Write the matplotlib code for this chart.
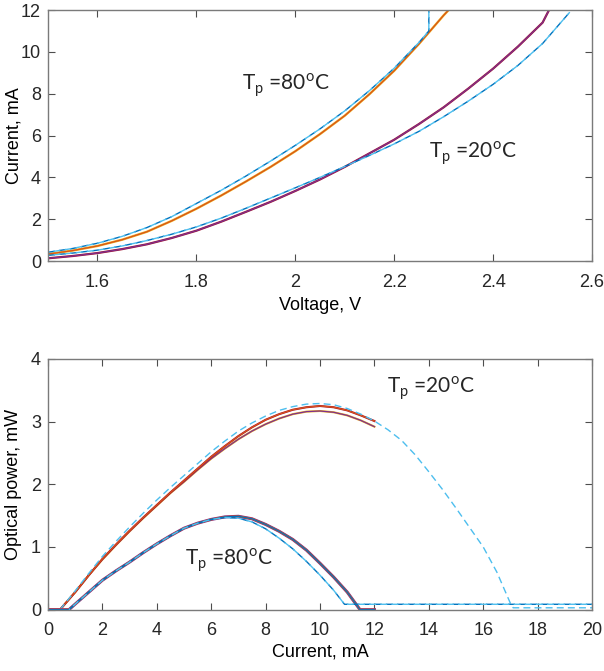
import matplotlib
matplotlib.use('Agg')
import matplotlib.pyplot as plt
import numpy as np

# ---- I-V data (top panel) ----
v80 = [1.50, 1.55, 1.60, 1.65, 1.70, 1.75, 1.80, 1.85, 1.90, 1.95, 2.00, 2.05,
       2.10, 2.15, 2.20, 2.25, 2.30, 2.31]
i80 = [0.33, 0.50, 0.72, 1.02, 1.40, 1.92, 2.50, 3.13, 3.80, 4.50, 5.25, 6.07,
       6.95, 7.98, 9.10, 10.38, 11.75, 12.0]

v80_sim = [1.50, 1.55, 1.60, 1.65, 1.70, 1.75, 1.80, 1.85, 1.90, 1.95, 2.00, 2.05,
           2.10, 2.15, 2.20, 2.25, 2.27, 2.27]
i80_sim = [0.42, 0.60, 0.85, 1.18, 1.60, 2.12, 2.75, 3.38, 4.06, 4.78, 5.53, 6.32,
           7.18, 8.15, 9.22, 10.45, 11.0, 12.0]

v20 = [1.50, 1.55, 1.60, 1.65, 1.70, 1.75, 1.80, 1.85, 1.90, 1.95, 2.00, 2.05,
       2.10, 2.15, 2.20, 2.25, 2.30, 2.35, 2.40, 2.45, 2.50, 2.513]
i20 = [0.13, 0.24, 0.38, 0.57, 0.80, 1.10, 1.45, 1.88, 2.35, 2.83, 3.35, 3.90,
       4.50, 5.15, 5.80, 6.55, 7.35, 8.25, 9.20, 10.25, 11.40, 12.0]

v20_sim = [1.50, 1.55, 1.60, 1.65, 1.70, 1.75, 1.80, 1.85, 1.90, 1.95, 2.00, 2.05,
           2.10, 2.15, 2.20, 2.25, 2.30, 2.35, 2.40, 2.45, 2.50, 2.555]
i20_sim = [0.27, 0.38, 0.52, 0.72, 0.98, 1.28, 1.63, 2.05, 2.52, 3.01, 3.50, 4.00,
           4.52, 5.05, 5.60, 6.20, 6.90, 7.65, 8.45, 9.35, 10.40, 11.90]

# ---- L-I data (bottom panel) ----
c20 = [0, 0.44, 1, 1.5, 2, 2.5, 3, 3.5, 4, 4.5, 5, 5.5, 6, 6.5, 7, 7.5, 8,
       8.5, 9, 9.5, 10, 10.5, 11, 11.5, 12]
p20_hi = [0, 0, 0.28, 0.55, 0.81, 1.04, 1.26, 1.47, 1.67, 1.87, 2.06, 2.25, 2.44,
          2.61, 2.77, 2.91, 3.03, 3.12, 3.19, 3.23, 3.25, 3.23, 3.18, 3.10, 3.01]
p20_lo = [0, 0, 0.28, 0.55, 0.80, 1.03, 1.25, 1.46, 1.66, 1.86, 2.04, 2.23, 2.41,
          2.57, 2.72, 2.85, 2.96, 3.05, 3.12, 3.16, 3.17, 3.15, 3.10, 3.02, 2.92]

c20_sim = [0.44, 1, 1.5, 2, 2.5, 3, 3.5, 4, 4.5, 5, 5.5, 6, 6.5, 7, 7.5, 8,
           8.5, 9, 9.5, 10, 10.5, 11, 11.5, 12, 12.5, 13, 13.5, 14, 14.5, 15,
           15.5, 16, 16.5, 17, 17.1, 20]
p20_sim = [0, 0.30, 0.58, 0.85, 1.09, 1.32, 1.54, 1.75, 1.95, 2.14, 2.33, 2.52,
           2.69, 2.85, 2.98, 3.09, 3.18, 3.24, 3.28, 3.29, 3.27, 3.21, 3.12, 3.01,
           2.87, 2.70, 2.47, 2.20, 1.92, 1.62, 1.31, 1.00, 0.60, 0.10, 0.03, 0.03]

c80 = [0, 0.77, 1, 1.5, 2, 2.5, 3, 3.5, 4, 4.5, 5, 5.5, 6, 6.5, 7, 7.5, 8,
       8.5, 9, 9.5, 10, 10.5, 11, 11.47, 12]
p80 = [0, 0, 0.09, 0.28, 0.47, 0.62, 0.76, 0.91, 1.05, 1.18, 1.30, 1.38, 1.44,
       1.48, 1.49, 1.45, 1.36, 1.25, 1.12, 0.95, 0.74, 0.52, 0.28, 0.0, 0.0]

c80_sim = [0.77, 1, 1.5, 2, 2.5, 3, 3.5, 4, 4.5, 5, 5.5, 6, 6.5, 7, 7.5, 8,
           8.5, 9, 9.5, 10, 10.5, 10.9, 20]
p80_sim = [0, 0.09, 0.28, 0.47, 0.62, 0.76, 0.91, 1.05, 1.18, 1.30, 1.38, 1.44,
           1.47, 1.46, 1.40, 1.29, 1.14, 0.97, 0.77, 0.55, 0.31, 0.086, 0.086]

# MATLAB default colours
blue = '#0072BD'
orange = '#D95319'
yellow = '#EDB120'
purple = '#7E2F8E'
lblue = '#4DBEEE'
dred = '#A2142F'

plt.rcParams['font.family'] = ['Liberation Sans', 'DejaVu Sans']
plt.rcParams['font.size'] = 13
plt.rcParams['text.color'] = '#262626'

fig = plt.figure(figsize=(6.04, 6.71), dpi=100)
ax1 = fig.add_axes([0.0795, 0.611, 0.9007, 0.374])
ax2 = fig.add_axes([0.0795, 0.0914, 0.9007, 0.3736])


def style(ax, xlab_y):
    for s in ax.spines.values():
        s.set_color('#7a7a7a')
        s.set_linewidth(1.0)
    ax.tick_params(direction='in', top=True, right=True, length=5,
                   width=0.8, color='#4d4d4d', labelcolor='#262626',
                   labelsize=13)
    ax.tick_params(axis='x', pad=9)
    ax.tick_params(axis='y', pad=5)
    ax.yaxis.set_label_coords(-0.047, 0.5)
    ax.xaxis.set_label_coords(0.5, xlab_y)


def lab(v):
    s = ('%.1f' % v)
    return s[:-2] if s.endswith('.0') else s


# top panel
ax1.plot(v80, i80, color=yellow, lw=1.7)
ax1.plot(v80, i80, color=orange, lw=0.9)
ax1.plot(v80_sim, i80_sim, color=blue, lw=1.0, ls=(0, (5, 3)))
ax1.plot(v80_sim, i80_sim, color=lblue, lw=1.0, ls=(4, (5, 3)))
ax1.plot(v20, i20, color=dred, lw=1.6)
ax1.plot(v20, i20, color=purple, lw=0.9)
ax1.plot(v20_sim, i20_sim, color=blue, lw=1.0, ls=(0, (5, 3)))
ax1.plot(v20_sim, i20_sim, color=lblue, lw=1.0, ls=(4, (5, 3)))

ax1.set_xlim(1.5, 2.6)
ax1.set_ylim(0, 12)
xt = [1.6, 1.8, 2.0, 2.2, 2.4, 2.6]
ax1.set_xticks(xt)
ax1.set_xticklabels([lab(v) for v in xt])
ax1.set_yticks(range(0, 13, 2))
ax1.set_xlabel('Voltage, V')
ax1.set_ylabel('Current, mA')
style(ax1, -0.145)

ann = dict(fontsize=15, family=['Lato', 'DejaVu Sans'], va='center', ha='left')
ax1.text(1.892, 8.4, r'T$_\mathregular{p}$ =80$^\mathregular{o}$C', **ann)
ax1.text(2.27, 5.15, r'T$_\mathregular{p}$ =20$^\mathregular{o}$C', **ann)

# bottom panel
ax2.plot(c20, p20_lo, color=yellow, lw=1.5)
ax2.plot(c20, p20_lo, color=purple, lw=0.9)
ax2.plot(c20, p20_hi, color=dred, lw=1.5)
ax2.plot(c20, p20_hi, color=orange, lw=0.9)
ax2.plot(c20_sim, p20_sim, color=lblue, lw=1.0, ls=(0, (5, 3)))
ax2.plot(c80, p80, color=purple, lw=2.2)
ax2.plot(c80, p80, color=orange, lw=1.5)
ax2.plot(c80, p80, color=blue, lw=0.9)
ax2.plot(c80_sim, p80_sim, color=blue, lw=1.0, ls=(0, (5, 3)))
ax2.plot(c80_sim, p80_sim, color=lblue, lw=1.0, ls=(4, (5, 3)))

ax2.set_xlim(0, 20)
ax2.set_ylim(0, 4)
ax2.set_xticks(range(0, 21, 2))
ax2.set_yticks(range(0, 5))
ax2.set_xlabel('Current, mA')
ax2.set_ylabel('Optical power, mW')
style(ax2, -0.133)

ax2.text(12.45, 3.53, r'T$_\mathregular{p}$ =20$^\mathregular{o}$C', **ann)
ax2.text(5.02, 0.79, r'T$_\mathregular{p}$ =80$^\mathregular{o}$C', **ann)

fig.savefig('out.png', dpi=100)
